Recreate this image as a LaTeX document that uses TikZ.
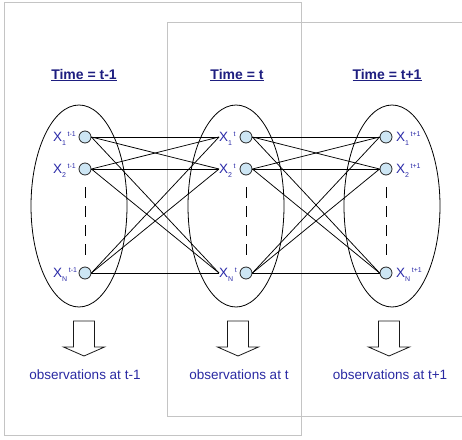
\documentclass[tikz,border=0pt]{standalone}
\usepackage{fontspec}
\setmainfont{Liberation Sans}
\definecolor{navy}{HTML}{1E1E80}
\definecolor{varblue}{HTML}{2B2BA8}
\definecolor{statefill}{HTML}{CDE6F4}
\definecolor{framegray}{HTML}{C4C4C4}

% state variable label: X with subscript and a superscript set after it
\newcommand\statevar[2]{X\smash{\raisebox{-4pt}{\fontsize{7}{7}\selectfont #1}\hspace{1.6pt}\raisebox{5pt}{\fontsize{7}{7}\selectfont #2}}}

\begin{document}
\begin{tikzpicture}[x=1pt,y=-1pt,
  state/.style={circle, draw=black!85, fill=statefill, line width=0.8pt,
                minimum size=12pt, inner sep=0pt},
  varlabel/.style={text=varblue, font=\fontsize{13.5}{13.5}\selectfont,
                   inner sep=0pt, anchor=west},
  timetitle/.style={text=navy, font=\bfseries\fontsize{14}{14}\selectfont},
  obstext/.style={text=varblue!85!navy, font=\fontsize{13.5}{14}\selectfont},
  slicebox/.style={draw=framegray, line width=1pt},
  group/.style={draw=black, line width=0.8pt},
  link/.style={draw=black, line width=0.75pt},
  ellipsis/.style={draw=black, line width=0.9pt, dash pattern=on 11pt off 8pt},
  obsarrow/.style={draw=black!90, line width=0.8pt, fill=white}
]
\useasboundingbox (0,0) rectangle (462,439);

% time-slice frames
\draw[slicebox] (4,2) rectangle (301,435);
\draw[slicebox] (462,22) -- (167,22) -- (167,416) -- (462,416);

% titles
\node[timetitle] (ttl1) at (84,75) {\underline{Time = t-1}};
\node[timetitle] (ttl2) at (237,75) {\underline{Time = t}};
\node[timetitle] (ttl3) at (387,75) {\underline{Time = t+1}};

% groups of hidden state variables
\draw[group] (79,206) ellipse [x radius=48, y radius=101];
\draw[group] (236,206) ellipse [x radius=48, y radius=101];
\draw[group] (392,206) ellipse [x radius=48, y radius=101];

% states at t-1
\node[state] (a1) at (85,137) {};
\node[state] (a2) at (85,169) {};
\node[state] (aN) at (85,273) {};
\node[varlabel] (la1) at (53,137) {\statevar{1}{t-1}};
\node[varlabel] (la2) at (53,169) {\statevar{2}{t-1}};
\node[varlabel] (laN) at (53,273) {\statevar{N}{t-1}};

% states at t
\node[state] (b1) at (246,137) {};
\node[state] (b2) at (246,169) {};
\node[state] (bN) at (246,273) {};
\node[varlabel] (lb1) at (219,137) {\statevar{1}{t}};
\node[varlabel] (lb2) at (219,169) {\statevar{2}{t}};
\node[varlabel] (lbN) at (219,273) {\statevar{N}{t}};

% states at t+1
\node[state] (c1) at (386,137) {};
\node[state] (c2) at (386,169) {};
\node[state] (cN) at (386,273) {};
\node[varlabel] (lc1) at (396,137) {\statevar{1}{t+1}};
\node[varlabel] (lc2) at (396,169) {\statevar{2}{t+1}};
\node[varlabel] (lcN) at (396,273) {\statevar{N}{t+1}};

% vertical ellipses between state 2 and state N
\draw[ellipsis, shorten <=12pt, shorten >=7pt] (a2) -- (aN);
\draw[ellipsis, shorten <=12pt, shorten >=7pt] (b2) -- (bN);
\draw[ellipsis, shorten <=12pt, shorten >=7pt] (c2) -- (cN);

% transitions t-1 -> t
\foreach \s in {1,2,N}
  \foreach \d in {1,2,N}
    \draw[link] (a\s.east) -- (lb\d.west);

% transitions t -> t+1
\foreach \s in {1,2,N}
  \foreach \d in {1,2,N}
    \draw[link] (b\s.east) -- (c\d.west);

% observation arrows
\foreach \cx in {84,238,389}
  \draw[obsarrow] (\cx-10.5,321) -- (\cx+10.5,321) -- (\cx+10.5,347)
     -- (\cx+20.5,347) -- (\cx,356) -- (\cx-20.5,347) -- (\cx-10.5,347) -- cycle;

% observation captions
\node[obstext] (o1) at (85,375) {observations at t-1};
\node[obstext] (o2) at (239,375) {observations at t};
\node[obstext] (o3) at (390,375) {observations at t+1};
\end{tikzpicture}
\end{document}
